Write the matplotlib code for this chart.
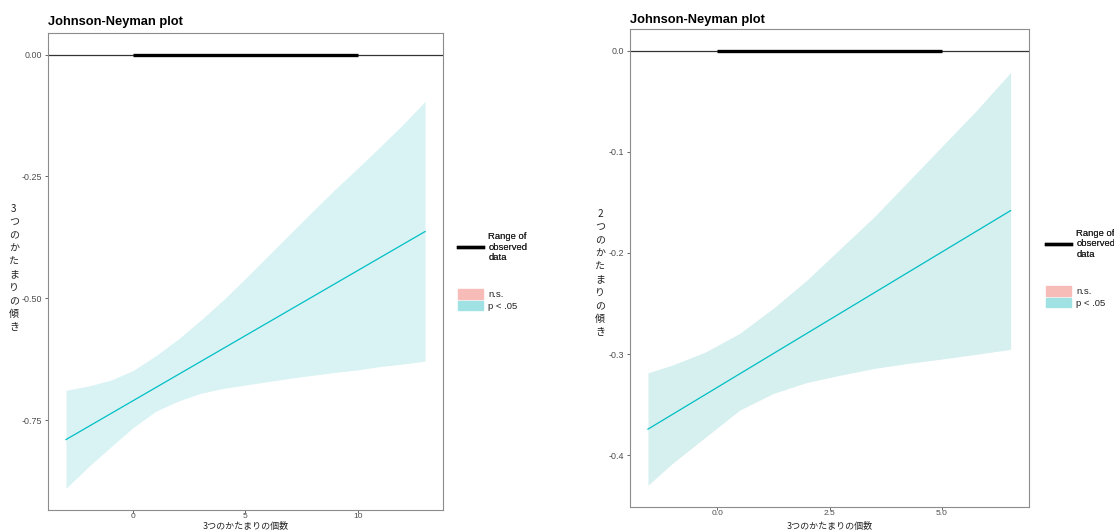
import numpy as np
import matplotlib.pyplot as plt
from matplotlib.lines import Line2D
from matplotlib.patches import Patch

plt.rcParams['font.family'] = ['Liberation Sans', 'Noto Sans CJK JP', 'DejaVu Sans']

# left panel: slope of cluster-3 across number of clusters
left_x = [-3, -2, -1, 0, 1, 2, 3, 4, 5, 6, 7, 8, 9, 10, 11, 12, 13]
left_upper = [-0.689, -0.680, -0.668, -0.648, -0.618, -0.584, -0.545, -0.504, -0.459,
              -0.413, -0.367, -0.321, -0.276, -0.233, -0.189, -0.144, -0.096]
left_lower = [-0.890, -0.846, -0.805, -0.765, -0.732, -0.711, -0.695, -0.685, -0.678,
              -0.671, -0.664, -0.658, -0.652, -0.647, -0.640, -0.635, -0.629]
left_line_x = [-3, 13]
left_line_y = [-0.790, -0.363]
left_obs = [0, 10]

# right panel: slope of cluster-2
right_x = [-1.54, -1.0, -0.25, 0.5, 1.25, 2.0, 2.75, 3.5, 4.25, 5.0, 5.75, 6.53]
right_upper = [-0.3185, -0.3109, -0.2977, -0.2795, -0.2547, -0.2267, -0.1953, -0.1640,
               -0.1294, -0.0947, -0.0601, -0.0215]
right_lower = [-0.4297, -0.4082, -0.3818, -0.3554, -0.3389, -0.3280, -0.3208, -0.3141,
               -0.3092, -0.3049, -0.3003, -0.2953]
right_line_x = [-1.54, 6.53]
right_line_y = [-0.3742, -0.1581]
right_obs = [0, 5]

xlab = '3つのかたまりの個数'
ylab_left = '3つのかたまりの傾き'
ylab_right = '2つのかたまりの傾き'

teal = '#00BFC4'
W, H = 1114, 531

fig = plt.figure(figsize=(W / 100, H / 100), dpi=100)


def px(x0, y0, x1, y1):
    return [x0 / W, 1 - y1 / H, (x1 - x0) / W, (y1 - y0) / H]


def panel(rect, x, up, lo, lx, ly, obs, fill, yticks, ylabels, xticks, xlabels, xlim, ylim):
    ax = fig.add_axes(rect)
    ax.fill_between(x, lo, up, color=fill, lw=0)
    ax.plot(lx, ly, color=teal, lw=0.9)
    ax.axhline(0, color='#333333', lw=0.9)
    ax.plot(obs, [0, 0], color='black', lw=2.4, solid_capstyle='butt')
    ax.set_xlim(xlim)
    ax.set_ylim(ylim)
    ax.set_yticks(yticks)
    ax.set_yticklabels(ylabels)
    ax.set_xticks(xticks)
    ax.set_xticklabels(xlabels)
    for s in ax.spines.values():
        s.set_color('#8c8c8c')
        s.set_linewidth(0.8)
    ax.tick_params(colors='#4d4d4d', labelsize=6.4, length=2.5, width=0.6, pad=2)
    ax.tick_params(axis='x', labelsize=6.0, length=2, pad=0.3)
    return ax


panel(px(48, 33, 443, 510), left_x, left_upper, left_lower, left_line_x, left_line_y,
      left_obs, '#D9F3F4', [0, -0.25, -0.5, -0.75], ['0.00', '-0.25', '-0.50', '-0.75'],
      [0, 5, 10], ['0', '5', '10'], (-3.8, 13.8), (-0.9345, 0.0445))
panel(px(630, 29, 1029, 507), right_x, right_upper, right_lower, right_line_x, right_line_y,
      right_obs, '#D6EFEF', [0, -0.1, -0.2, -0.3, -0.4], ['0.0', '-0.1', '-0.2', '-0.3', '-0.4'],
      [0, 2.5, 5], ['0.0', '2.5', '5.0'], (-1.94, 6.94), (-0.4512, 0.0215))

# titles
fig.text(48 / W, 1 - 25.5 / H, 'Johnson-Neyman plot', fontsize=9.3, fontweight='bold', va='baseline')
fig.text(630 / W, 1 - 22.7 / H, 'Johnson-Neyman plot', fontsize=9.3, fontweight='bold', va='baseline')

# axis labels (stacked characters)
cjk = ['Noto Sans CJK JP', 'DejaVu Sans']
fig.text(14 / W, 1 - 268 / H, '\n'.join(ylab_left), family=cjk, fontsize=7.2, color='#222222',
         ha='center', va='center', linespacing=1.4)
fig.text(600 / W, 1 - 273 / H, '\n'.join(ylab_right), family=cjk, fontsize=7.2, color='#222222',
         ha='center', va='center', linespacing=1.4)
fig.text(245.5 / W, 0.2 / H, xlab, family=cjk, fontsize=6.5, color='#222222', ha='center', va='bottom')
fig.text(829.5 / W, 0.2 / H, xlab, family=cjk, fontsize=6.5, color='#222222', ha='center', va='bottom')

# legends
for lx0, ly_line, ly_fill in [(458, 247, 300), (1046, 244, 297)]:
    h1 = [Line2D([], [], color='black', lw=2.4)]
    leg1 = fig.legend(h1, ['Range of\nobserved\ndata'], loc='center left',
                      bbox_to_anchor=(lx0 / W, 1 - ly_line / H), frameon=False, fontsize=6.8,
                      labelcolor='#222222', handlelength=2.6, borderpad=0, handletextpad=0.6,
                      borderaxespad=0)
    h2 = [Patch(color='#F8BCB8'), Patch(color='#A0E1E3')]
    fig.legend(h2, ['n.s.', 'p < .05'], loc='center left', bbox_to_anchor=(lx0 / W, 1 - ly_fill / H),
               frameon=False, fontsize=6.8, labelcolor='#222222', handlelength=2.6, handleheight=1.15,
               labelspacing=0.2, borderpad=0, handletextpad=0.6, borderaxespad=0)
    fig.add_artist(leg1)

fig.savefig('out.png', dpi=100)
